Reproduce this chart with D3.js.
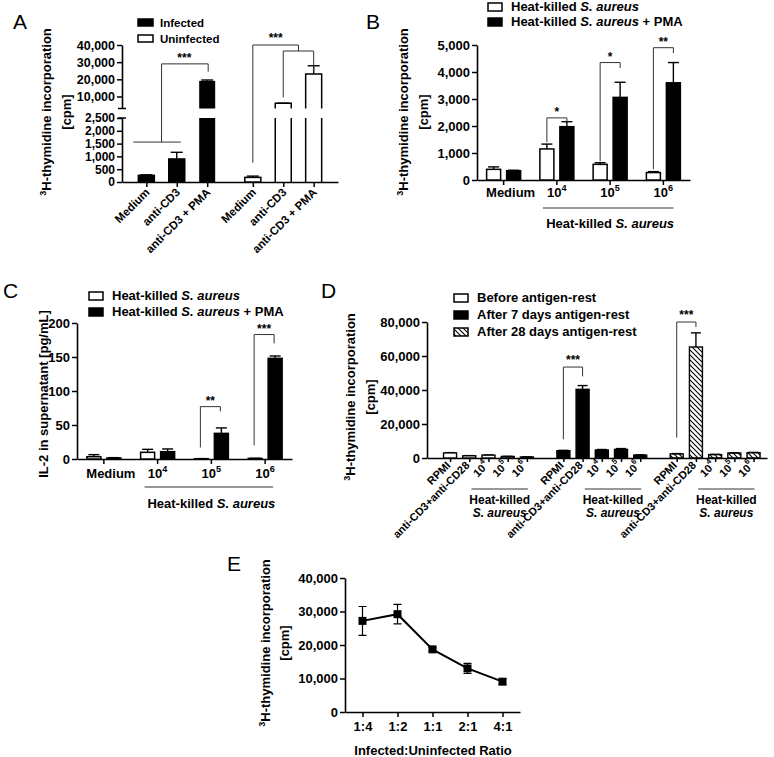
<!DOCTYPE html>
<html>
<head>
<meta charset="utf-8">
<script src="https://cdn.jsdelivr.net/npm/d3@7"></script>
<style>
body { margin: 0; background: #fff; }
</style>
</head>
<body>
<svg id="fig" width="774" height="757"></svg>
<script>
// panel A - infected vs uninfected cells
const aCats = ['Medium', 'anti-CD3', 'anti-CD3 + PMA'];
const aInfected = [260, 900, 19100];
const aInfectedErr = [20, 260, 500];
const aUninfected = [180, 6000, 23100];
const aUninfectedErr = [50, 100, 4800];
const aLowTicks = [0, 500, 1000, 1500, 2000, 2500];
const aHighTicks = [10000, 20000, 30000, 40000];

// panel B - heat-killed S. aureus, thymidine
const bCats = ['Medium', '4', '5', '6'];
const bHk = [395, 1150, 580, 275];
const bHkErr = [90, 180, 60, 35];
const bPma = [345, 1975, 3060, 3600];
const bPmaErr = [15, 185, 560, 750];
const bTicks = [0, 1000, 2000, 3000, 4000, 5000];

// panel C - IL-2
const cHk = [3.4, 9.8, 0.4, 0.8];
const cHkErr = [3, 4.4, 0.2, 0.3];
const cPma = [1.5, 10.8, 37.7, 148];
const cPmaErr = [0.5, 4, 8, 3.5];
const cTicks = [0, 50, 100, 150, 200];

// panel D - antigen rest
const dCats = ['RPMI', 'anti-CD3+anti-CD28', '4', '5', '6'];
const dSeries = ['Before antigen-rest', 'After 7 days antigen-rest', 'After 28 days antigen-rest'];
const dBefore = [3000, 1300, 1700, 900, 600];
const dBeforeErr = [150, 100, 100, 80, 80];
const dDay7 = [4300, 40400, 4700, 5100, 1700];
const dDay7Err = [200, 2200, 300, 450, 150];
const dDay28 = [2400, 65300, 2000, 2900, 3100];
const dDay28Err = [200, 8300, 150, 200, 200];
const dTicks = [0, 20000, 40000, 60000, 80000];

// panel E - ratio titration
const eRatios = ['1:4', '1:2', '1:1', '2:1', '4:1'];
const eValues = [27200, 29200, 18700, 13000, 9050];
const eErr = [4300, 2900, 500, 1500, 800];
const eTicks = [0, 10000, 20000, 30000, 40000];

const FONT = '"Liberation Sans", Arial, Helvetica, sans-serif';
const fmt = d3.format(',');
const svg = d3.select('#fig')
  .attr('font-family', FONT)
  .attr('font-weight', 'bold');

// hatch for the 28 day bars
svg.append('defs').append('pattern')
  .attr('id', 'hatch')
  .attr('patternUnits', 'userSpaceOnUse')
  .attr('width', 5).attr('height', 5)
  .append('path')
  .attr('d', 'M0,0L5,5M-1,4L1,6M4,-1L6,1')
  .attr('stroke', '#000').attr('stroke-width', 1.1);

function styleAxis(g, size) {
  g.selectAll('.domain').attr('stroke', '#000').attr('stroke-width', 1.6);
  g.selectAll('.tick line').attr('stroke', '#000').attr('stroke-width', 1.5);
  g.selectAll('.tick text')
    .attr('font-family', FONT).attr('font-weight', 'bold')
    .attr('font-size', size).attr('fill', '#000');
}

function panelTitle(x, y, s) {
  svg.append('text').attr('x', x).attr('y', y)
    .attr('font-size', 21).attr('font-weight', 'normal').text(s);
}

function thymidineLabel(x, y, gap) {
  const t = svg.append('text')
    .attr('transform', `translate(${x},${y}) rotate(-90)`)
    .attr('text-anchor', 'middle').attr('font-size', 13);
  t.append('tspan').attr('font-size', 9).attr('dy', -5).text('3');
  t.append('tspan').attr('dy', 5).text('H-thymidine incorporation');
  svg.append('text')
    .attr('transform', `translate(${x + gap},${y}) rotate(-90)`)
    .attr('text-anchor', 'middle').attr('font-size', 13).text('[cpm]');
}

function powerText(sel, sup, size) {
  sel.append('tspan').text('10');
  sel.append('tspan').attr('dy', -6).attr('font-size', size * 0.7).text(sup);
}

function bracket(g, pts) {
  g.append('path')
    .attr('d', d3.line()(pts))
    .attr('fill', 'none').attr('stroke', '#333').attr('stroke-width', 1);
}

function stars(g, x, y, s) {
  g.append('text').attr('x', x).attr('y', y)
    .attr('text-anchor', 'middle').attr('font-size', 12).text(s);
}

function errUp(g, x, y0, y1, w) {
  g.append('line').attr('x1', x).attr('x2', x).attr('y1', y0).attr('y2', y1)
    .attr('stroke', '#000').attr('stroke-width', 1.4);
  g.append('line').attr('x1', x - w / 2).attr('x2', x + w / 2).attr('y1', y1).attr('y2', y1)
    .attr('stroke', '#000').attr('stroke-width', 1.4);
}

function legendRow(g, x, y, fill, parts) {
  g.append('rect').attr('x', x).attr('y', y - 8).attr('width', 14).attr('height', 8)
    .attr('fill', fill).attr('stroke', '#000').attr('stroke-width', 1.5);
  const t = g.append('text').attr('x', x + 23).attr('y', y).attr('font-size', 13);
  parts.forEach(p => t.append('tspan').attr('font-style', p[1] ? 'italic' : null).text(p[0]));
}

const hkParts = [['Heat-killed '], ['S. aureus', true]];
const hkPmaParts = [['Heat-killed '], ['S. aureus', true], [' + PMA']];

// ================= A =================
const gA = svg.append('g');
const xA = d3.scaleLinear().domain([-0.8, 6.3]).range([122, 338]);
const aPos = [0, 1, 2, 3.5, 4.5, 5.5];
const yLow = d3.scaleLinear().domain([0, 2500]).range([182, 118]);
const yHigh = d3.scaleLinear().domain([3000, 40000]).range([108.5, 45]);
const yA = v => v <= 2500 ? yLow(v) : yHigh(v);
const aBarW = 16;

gA.append('g').attr('transform', 'translate(122,0)')
  .call(d3.axisLeft(yLow).tickValues(aLowTicks).tickFormat(fmt).tickSize(5).tickSizeOuter(0).tickPadding(2))
  .call(g => styleAxis(g, 12));
gA.append('g').attr('transform', 'translate(122,0)')
  .call(d3.axisLeft(yHigh).tickValues(aHighTicks).tickFormat(fmt).tickSize(5).tickSizeOuter(0).tickPadding(2))
  .call(g => styleAxis(g, 12.5));
[yLow(2500), yHigh(3000)].forEach(y => {
  gA.append('line').attr('x1', 118).attr('x2', 126).attr('y1', y).attr('y2', y)
    .attr('stroke', '#000').attr('stroke-width', 1.5);
});
gA.append('g').attr('transform', `translate(0,${yLow(0)})`)
  .call(d3.axisBottom(xA).tickValues(aPos).tickFormat('').tickSize(5).tickSizeOuter(0))
  .call(g => styleAxis(g, 12));

const aRows = aInfected.map((v, i) => ({ pos: aPos[i], v, e: aInfectedErr[i], fill: '#000' }))
  .concat(aUninfected.map((v, i) => ({ pos: aPos[i + 3], v, e: aUninfectedErr[i], fill: '#fff' })));

aRows.forEach(d => {
  const x0 = xA(d.pos) - aBarW / 2, x1 = xA(d.pos) + aBarW / 2;
  errUp(gA, xA(d.pos), yA(d.v), yA(d.v + d.e), aBarW - 4);
  if (d.v <= 2500) {
    gA.append('rect').attr('x', x0).attr('y', yLow(d.v)).attr('width', aBarW)
      .attr('height', yLow(0) - yLow(d.v))
      .attr('fill', d.fill).attr('stroke', '#000').attr('stroke-width', 1.5);
  } else if (d.fill === '#000') {
    gA.append('rect').attr('x', x0).attr('y', yLow(2500)).attr('width', aBarW)
      .attr('height', yLow(0) - yLow(2500)).attr('fill', '#000');
    gA.append('rect').attr('x', x0).attr('y', yHigh(d.v)).attr('width', aBarW)
      .attr('height', yHigh(3000) - yHigh(d.v)).attr('fill', '#000');
  } else {
    gA.append('path')
      .attr('d', `M${x0},${yLow(0)}V${yLow(2500)}M${x1},${yLow(2500)}V${yLow(0)}` +
        `M${x0},${yHigh(3000)}V${yHigh(d.v)}H${x1}V${yHigh(3000)}`)
      .attr('fill', 'none').attr('stroke', '#000').attr('stroke-width', 1.5);
  }
});

aPos.forEach((p, i) => {
  gA.append('text')
    .attr('transform', `translate(${xA(p) + 4},${yLow(0) + 11}) rotate(-45)`)
    .attr('text-anchor', 'end').attr('font-size', 11.5)
    .text(aCats[i % 3]);
});

// significance brackets A
const midA = (xA(aPos[0]) + xA(aPos[1])) / 2;
bracket(gA, [[xA(aPos[0]) - 13, yLow(1560)], [xA(aPos[1]) + 4, yLow(1560)]]);
bracket(gA, [[midA, yLow(1560)], [midA, yHigh(29000)], [xA(aPos[2]) + 1, yHigh(29000)], [xA(aPos[2]) + 1, yHigh(24500)]]);
stars(gA, (midA + xA(aPos[2])) / 2, yHigh(29000) - 2, '***');
const midA2 = (xA(aPos[4]) + xA(aPos[5])) / 2;
bracket(gA, [[xA(aPos[3]), yLow(750)], [xA(aPos[3]), yHigh(40000)], [midA2, yHigh(40000)], [midA2, yHigh(36500)]]);
bracket(gA, [[xA(aPos[4]), yHigh(9500)], [xA(aPos[4]), yHigh(36500)], [xA(aPos[5]), yHigh(36500)], [xA(aPos[5]), yHigh(24500)]]);
stars(gA, (xA(aPos[3]) + midA2) / 2, yHigh(40000) - 3, '***');

// legend A
[['Infected', '#000'], ['Uninfected', '#fff']].forEach((r, i) => {
  gA.append('rect').attr('x', 138).attr('y', 19 + i * 16).attr('width', 15).attr('height', 7)
    .attr('fill', r[1]).attr('stroke', '#000').attr('stroke-width', 1.5);
  gA.append('text').attr('x', 160).attr('y', 27 + i * 16).attr('font-size', 11.5).text(r[0]);
});
panelTitle(13, 29, 'A');
thymidineLabel(51, 112, 20);

// ================= B =================
const gB = svg.append('g');
const xB = d3.scaleBand().domain(bCats).range([477, 690]);
const yB = d3.scaleLinear().domain([0, 5000]).range([180, 45]);
const bBarW = 14;
const bc = k => xB(k) + xB.bandwidth() / 2;

gB.append('g').attr('transform', 'translate(477,0)')
  .call(d3.axisLeft(yB).tickValues(bTicks).tickFormat(fmt).tickSize(5).tickSizeOuter(0).tickPadding(2))
  .call(g => styleAxis(g, 13));
gB.append('g').attr('transform', `translate(0,${yB(0)})`)
  .call(d3.axisBottom(xB).tickFormat('').tickSize(5).tickSizeOuter(0))
  .call(g => styleAxis(g, 13));

bCats.forEach((k, i) => {
  [[bHk[i], bHkErr[i], '#fff', -10], [bPma[i], bPmaErr[i], '#000', 10]].forEach(s => {
    const cx = bc(k) + s[3];
    errUp(gB, cx, yB(s[0]), yB(s[0] + s[1]), bBarW - 3);
    gB.append('rect').attr('x', cx - bBarW / 2).attr('y', yB(s[0])).attr('width', bBarW)
      .attr('height', yB(0) - yB(s[0])).attr('fill', s[2])
      .attr('stroke', '#000').attr('stroke-width', 1.5);
  });
  const t = gB.append('text').attr('x', bc(k) + (i === 0 ? 7 : 0)).attr('y', 197)
    .attr('text-anchor', 'middle').attr('font-size', 13);
  if (i === 0) t.text(k); else powerText(t, k, 13);
});
gB.append('line').attr('x1', bc('4') - 14).attr('x2', bc('6') + 10).attr('y1', 208).attr('y2', 208)
  .attr('stroke', '#333').attr('stroke-width', 1.2);
const tb = gB.append('text').attr('x', (bc('4') + bc('6')) / 2).attr('y', 228)
  .attr('text-anchor', 'middle').attr('font-size', 13);
hkParts.forEach(p => tb.append('tspan').attr('font-style', p[1] ? 'italic' : null).text(p[0]));

[['4', 1400, 2300, 2150], ['5', 700, 4350, 4150], ['6', 400, 4900, 4700]].forEach(b => {
  const xl = bc(b[0]) - 10, xr = bc(b[0]) + 10;
  bracket(gB, [[xl, yB(b[1])], [xl, yB(b[2])], [xr, yB(b[2])], [xr, yB(b[3])]]);
  stars(gB, (xl + xr) / 2, yB(b[2]) - 2, b[0] === '6' ? '**' : '*');
});

legendRow(gB, 488, 11, '#fff', hkParts);
legendRow(gB, 488, 26, '#000', hkPmaParts);
panelTitle(366, 29, 'B');
thymidineLabel(408, 112, 20);

// ================= C =================
const gC = svg.append('g');
const xC = d3.scaleBand().domain(bCats).range([77, 292]);
const yC = d3.scaleLinear().domain([0, 200]).range([459, 323]);
const cc = k => xC(k) + xC.bandwidth() / 2;

gC.append('g').attr('transform', 'translate(77,0)')
  .call(d3.axisLeft(yC).tickValues(cTicks).tickSize(5).tickSizeOuter(0).tickPadding(2))
  .call(g => styleAxis(g, 13));
gC.append('g').attr('transform', `translate(0,${yC(0)})`)
  .call(d3.axisBottom(xC).tickFormat('').tickSize(5).tickSizeOuter(0))
  .call(g => styleAxis(g, 13));

bCats.forEach((k, i) => {
  [[cHk[i], cHkErr[i], '#fff', -10], [cPma[i], cPmaErr[i], '#000', 10]].forEach(s => {
    const cx = cc(k) + s[3];
    errUp(gC, cx, yC(s[0]), yC(s[0] + s[1]), bBarW - 3);
    gC.append('rect').attr('x', cx - bBarW / 2).attr('y', yC(s[0])).attr('width', bBarW)
      .attr('height', yC(0) - yC(s[0])).attr('fill', s[2])
      .attr('stroke', '#000').attr('stroke-width', 1.5);
  });
  const t = gC.append('text').attr('x', cc(k) + (i === 0 ? 7 : 0)).attr('y', 478)
    .attr('text-anchor', 'middle').attr('font-size', 13);
  if (i === 0) t.text(k); else powerText(t, k, 13);
});
gC.append('line').attr('x1', cc('4') - 13).attr('x2', cc('6') + 8).attr('y1', 487).attr('y2', 487)
  .attr('stroke', '#333').attr('stroke-width', 1.2);
const tc = gC.append('text').attr('x', (cc('4') + cc('6')) / 2).attr('y', 508)
  .attr('text-anchor', 'middle').attr('font-size', 13);
hkParts.forEach(p => tc.append('tspan').attr('font-style', p[1] ? 'italic' : null).text(p[0]));

[['5', 17, 77, 70, '**'], ['6', 20, 183, 170, '***']].forEach(b => {
  const xl = cc(b[0]) - 11, xr = cc(b[0]) + 9;
  bracket(gC, [[xl, yC(b[1])], [xl, yC(b[2])], [xr, yC(b[2])], [xr, yC(b[3])]]);
  stars(gC, (xl + xr) / 2, yC(b[2]) - 2, b[4]);
});

legendRow(gC, 89, 300, '#fff', hkParts);
legendRow(gC, 89, 316, '#000', hkPmaParts);
panelTitle(3, 298, 'C');
svg.append('text').attr('transform', 'translate(48,394) rotate(-90)')
  .attr('text-anchor', 'middle').attr('font-size', 13).text('IL-2 in supernatant [pg/mL]');

// ================= D =================
const gD = svg.append('g');
const xD = d3.scaleLinear().domain([-1.2, 16.5]).range([427, 767]);
const yD = d3.scaleLinear().domain([0, 80000]).range([458, 322]);
const dBarW = 13;
const dFills = ['#fff', '#000', 'url(#hatch)'];
const dVals = [dBefore, dDay7, dDay28];
const dErrs = [dBeforeErr, dDay7Err, dDay28Err];
const dPos = (g, i) => g * 5.9 + i;
const dAllPos = [];
dVals.forEach((vals, g) => vals.forEach((v, i) => dAllPos.push(dPos(g, i))));

gD.append('g').attr('transform', 'translate(427,0)')
  .call(d3.axisLeft(yD).tickValues(dTicks).tickFormat(fmt).tickSize(5).tickSizeOuter(0).tickPadding(2))
  .call(g => styleAxis(g, 13));
gD.append('g').attr('transform', `translate(0,${yD(0)})`)
  .call(d3.axisBottom(xD).tickValues(dAllPos).tickFormat('').tickSize(4).tickSizeOuter(0))
  .call(g => styleAxis(g, 11));

dVals.forEach((vals, g) => {
  vals.forEach((v, i) => {
    const cx = xD(dPos(g, i));
    errUp(gD, cx, yD(v), yD(v + dErrs[g][i]), dBarW - 3);
    gD.append('rect').attr('x', cx - dBarW / 2).attr('y', yD(v)).attr('width', dBarW)
      .attr('height', yD(0) - yD(v)).attr('fill', dFills[g])
      .attr('stroke', '#000').attr('stroke-width', 1.4);
    const t = gD.append('text')
      .attr('transform', `translate(${cx + 1},${yD(0) + 8}) rotate(-45)`)
      .attr('text-anchor', 'end').attr('font-size', 11);
    if (i < 2) t.text(dCats[i]); else powerText(t, dCats[i], 11);
  });
  const xl = xD(dPos(g, 2)) - 17, xr = xD(dPos(g, 4)) + 1;
  gD.append('line').attr('x1', xl).attr('x2', xr).attr('y1', 489).attr('y2', 489)
    .attr('stroke', '#333').attr('stroke-width', 1.2);
  gD.append('text').attr('x', (xl + xr) / 2).attr('y', 504)
    .attr('text-anchor', 'middle').attr('font-size', 12).text('Heat-killed');
  gD.append('text').attr('x', (xl + xr) / 2).attr('y', 517)
    .attr('text-anchor', 'middle').attr('font-size', 12).attr('font-style', 'italic').text('S. aureus');
});

[[1, 11000, 53500, 48000], [2, 12000, 80000, 77000]].forEach(b => {
  const xl = xD(dPos(b[0], 0)), xr = xD(dPos(b[0], 1));
  bracket(gD, [[xl, yD(b[1])], [xl, yD(b[2])], [xr, yD(b[2])], [xr, yD(b[3])]]);
  stars(gD, (xl + xr) / 2, yD(b[2]) - 3, '***');
});

dSeries.forEach((s, i) => legendRow(gD, 454, 302 + i * 17, dFills[i], [[s]]));
panelTitle(321, 298, 'D');
thymidineLabel(355, 397, 20);

// ================= E =================
const gE = svg.append('g');
const xE = d3.scalePoint().domain(eRatios).range([345, 520]).padding(0.5);
const yE = d3.scaleLinear().domain([0, 40000]).range([712, 578]);

gE.append('g').attr('transform', 'translate(345,0)')
  .call(d3.axisLeft(yE).tickValues(eTicks).tickFormat(fmt).tickSize(5).tickSizeOuter(0).tickPadding(2))
  .call(g => styleAxis(g, 13));
gE.append('g').attr('transform', `translate(0,${yE(0)})`)
  .call(d3.axisBottom(xE).tickSize(5).tickSizeOuter(0).tickPadding(5))
  .call(g => styleAxis(g, 13));

eRatios.forEach((r, i) => {
  const x = xE(r);
  gE.append('path')
    .attr('d', `M${x - 4},${yE(eValues[i] + eErr[i])}H${x + 4}M${x},${yE(eValues[i] + eErr[i])}V${yE(eValues[i] - eErr[i])}M${x - 4},${yE(eValues[i] - eErr[i])}H${x + 4}`)
    .attr('stroke', '#000').attr('stroke-width', 1.2).attr('fill', 'none');
});
gE.append('path')
  .datum(eValues)
  .attr('d', d3.line().x((d, i) => xE(eRatios[i])).y(d => yE(d)))
  .attr('fill', 'none').attr('stroke', '#000').attr('stroke-width', 2);
gE.selectAll('rect.pt').data(eValues).enter().append('rect')
  .attr('class', 'pt')
  .attr('x', (d, i) => xE(eRatios[i]) - 4).attr('y', d => yE(d) - 4)
  .attr('width', 8).attr('height', 8).attr('fill', '#000');

gE.append('text').attr('x', 433).attr('y', 755).attr('text-anchor', 'middle')
  .attr('font-size', 13).text('Infected:Uninfected Ratio');
panelTitle(227, 571, 'E');
thymidineLabel(270, 643, 19);
</script>
</body>
</html>
